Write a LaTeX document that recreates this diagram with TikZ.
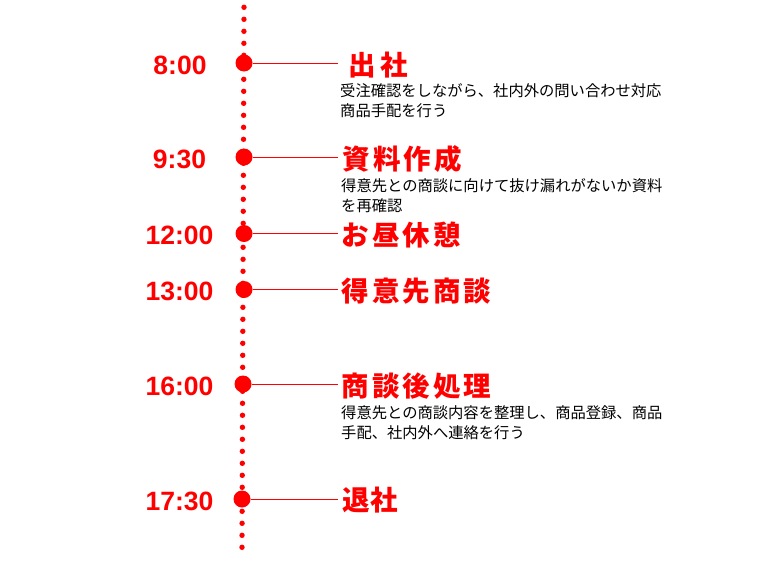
\documentclass[tikz,border=0pt]{standalone}
\usepackage{fontspec}
\setmainfont{Liberation Sans}
\newfontfamily\cjk{Noto Sans CJK JP}
\begin{document}
\begin{tikzpicture}[x=1pt,y=-1pt,
  bigdot/.style={circle,fill=red,inner sep=0pt,minimum size=17pt},
  timelabel/.style={text=red,font=\fontsize{26.5}{28}\selectfont\bfseries,anchor=base,inner sep=0pt},
  titlelabel/.style={text=red,font=\cjk\fontsize{27.5}{30}\selectfont\bfseries,anchor=base west,inner sep=0pt},
  desclabel/.style={font=\cjk\fontsize{15.3}{18}\selectfont,anchor=base west,inner sep=0pt},
  connector/.style={red,line width=0.9pt}]
\useasboundingbox (0,0) rectangle (765,560);
\fill[white] (0,0) rectangle (765,560);
% dotted time axis
\foreach \k in {0,...,45}
  \fill[red] ({244-2*\k/45},{7.3+12*\k}) circle (2.7);
% 8:00
\node[bigdot] (d1) at (244,63) {};
\coordinate (e1) at (338,63);
\draw[connector] (d1) -- (e1);
\node[timelabel] (t1) at (180,74) {8:00};
\node[titlelabel] (h1) at (348.5,75) {出\kern4pt 社};
\node[desclabel] (s1a) at (340,96) {受注確認をしながら、社内外の問い合わせ対応};
\node[desclabel] (s1b) at (340,116.5) {商品手配を行う};
% 9:30
\node[bigdot] (d2) at (244,157) {};
\coordinate (e2) at (338,157);
\draw[connector] (d2) -- (e2);
\node[timelabel] (t2) at (179.5,168) {9:30};
\node[titlelabel] (h2) at (342.5,169) {資\kern3pt 料\kern3pt 作\kern3pt 成};
\node[desclabel] (s2a) at (341,191) {得意先との商談に向けて抜け漏れがないか資料};
\node[desclabel] (s2b) at (341,211.5) {を再確認};
% 12:00
\node[bigdot] (d3) at (244,233.5) {};
\coordinate (e3) at (338,233.5);
\draw[connector] (d3) -- (e3);
\node[timelabel] (t3) at (179.5,244.5) {12:00};
\node[titlelabel] (h3) at (341.5,245.5) {お\kern3pt 昼\kern3pt 休\kern3pt 憩};
% 13:00
\node[bigdot] (d4) at (244,289.5) {};
\coordinate (e4) at (338,289.5);
\draw[connector] (d4) -- (e4);
\node[timelabel] (t4) at (179.5,300.5) {13:00};
\node[titlelabel] (h4) at (341.5,301.5) {得\kern3pt 意\kern3pt 先\kern3pt 商\kern3pt 談};
% 16:00
\node[bigdot] (d5) at (243,384) {};
\coordinate (e5) at (338,384);
\draw[connector] (d5) -- (e5);
\node[timelabel] (t5) at (179.5,395) {16:00};
\node[titlelabel] (h5) at (341.5,396) {商\kern3pt 談\kern3pt 後\kern3pt 処\kern3pt 理};
\node[desclabel] (s5a) at (341,418) {得意先との商談内容を整理し、商品登録、商品};
\node[desclabel] (s5b) at (341,438.5) {手配、社内外へ連絡を行う};
% 17:30
\node[bigdot] (d6) at (242,499) {};
\coordinate (e6) at (338,499);
\draw[connector] (d6) -- (e6);
\node[timelabel] (t6) at (179.5,510) {17:30};
\node[titlelabel] (h6) at (342.5,510) {退\kern0pt 社};
\end{tikzpicture}
\end{document}
